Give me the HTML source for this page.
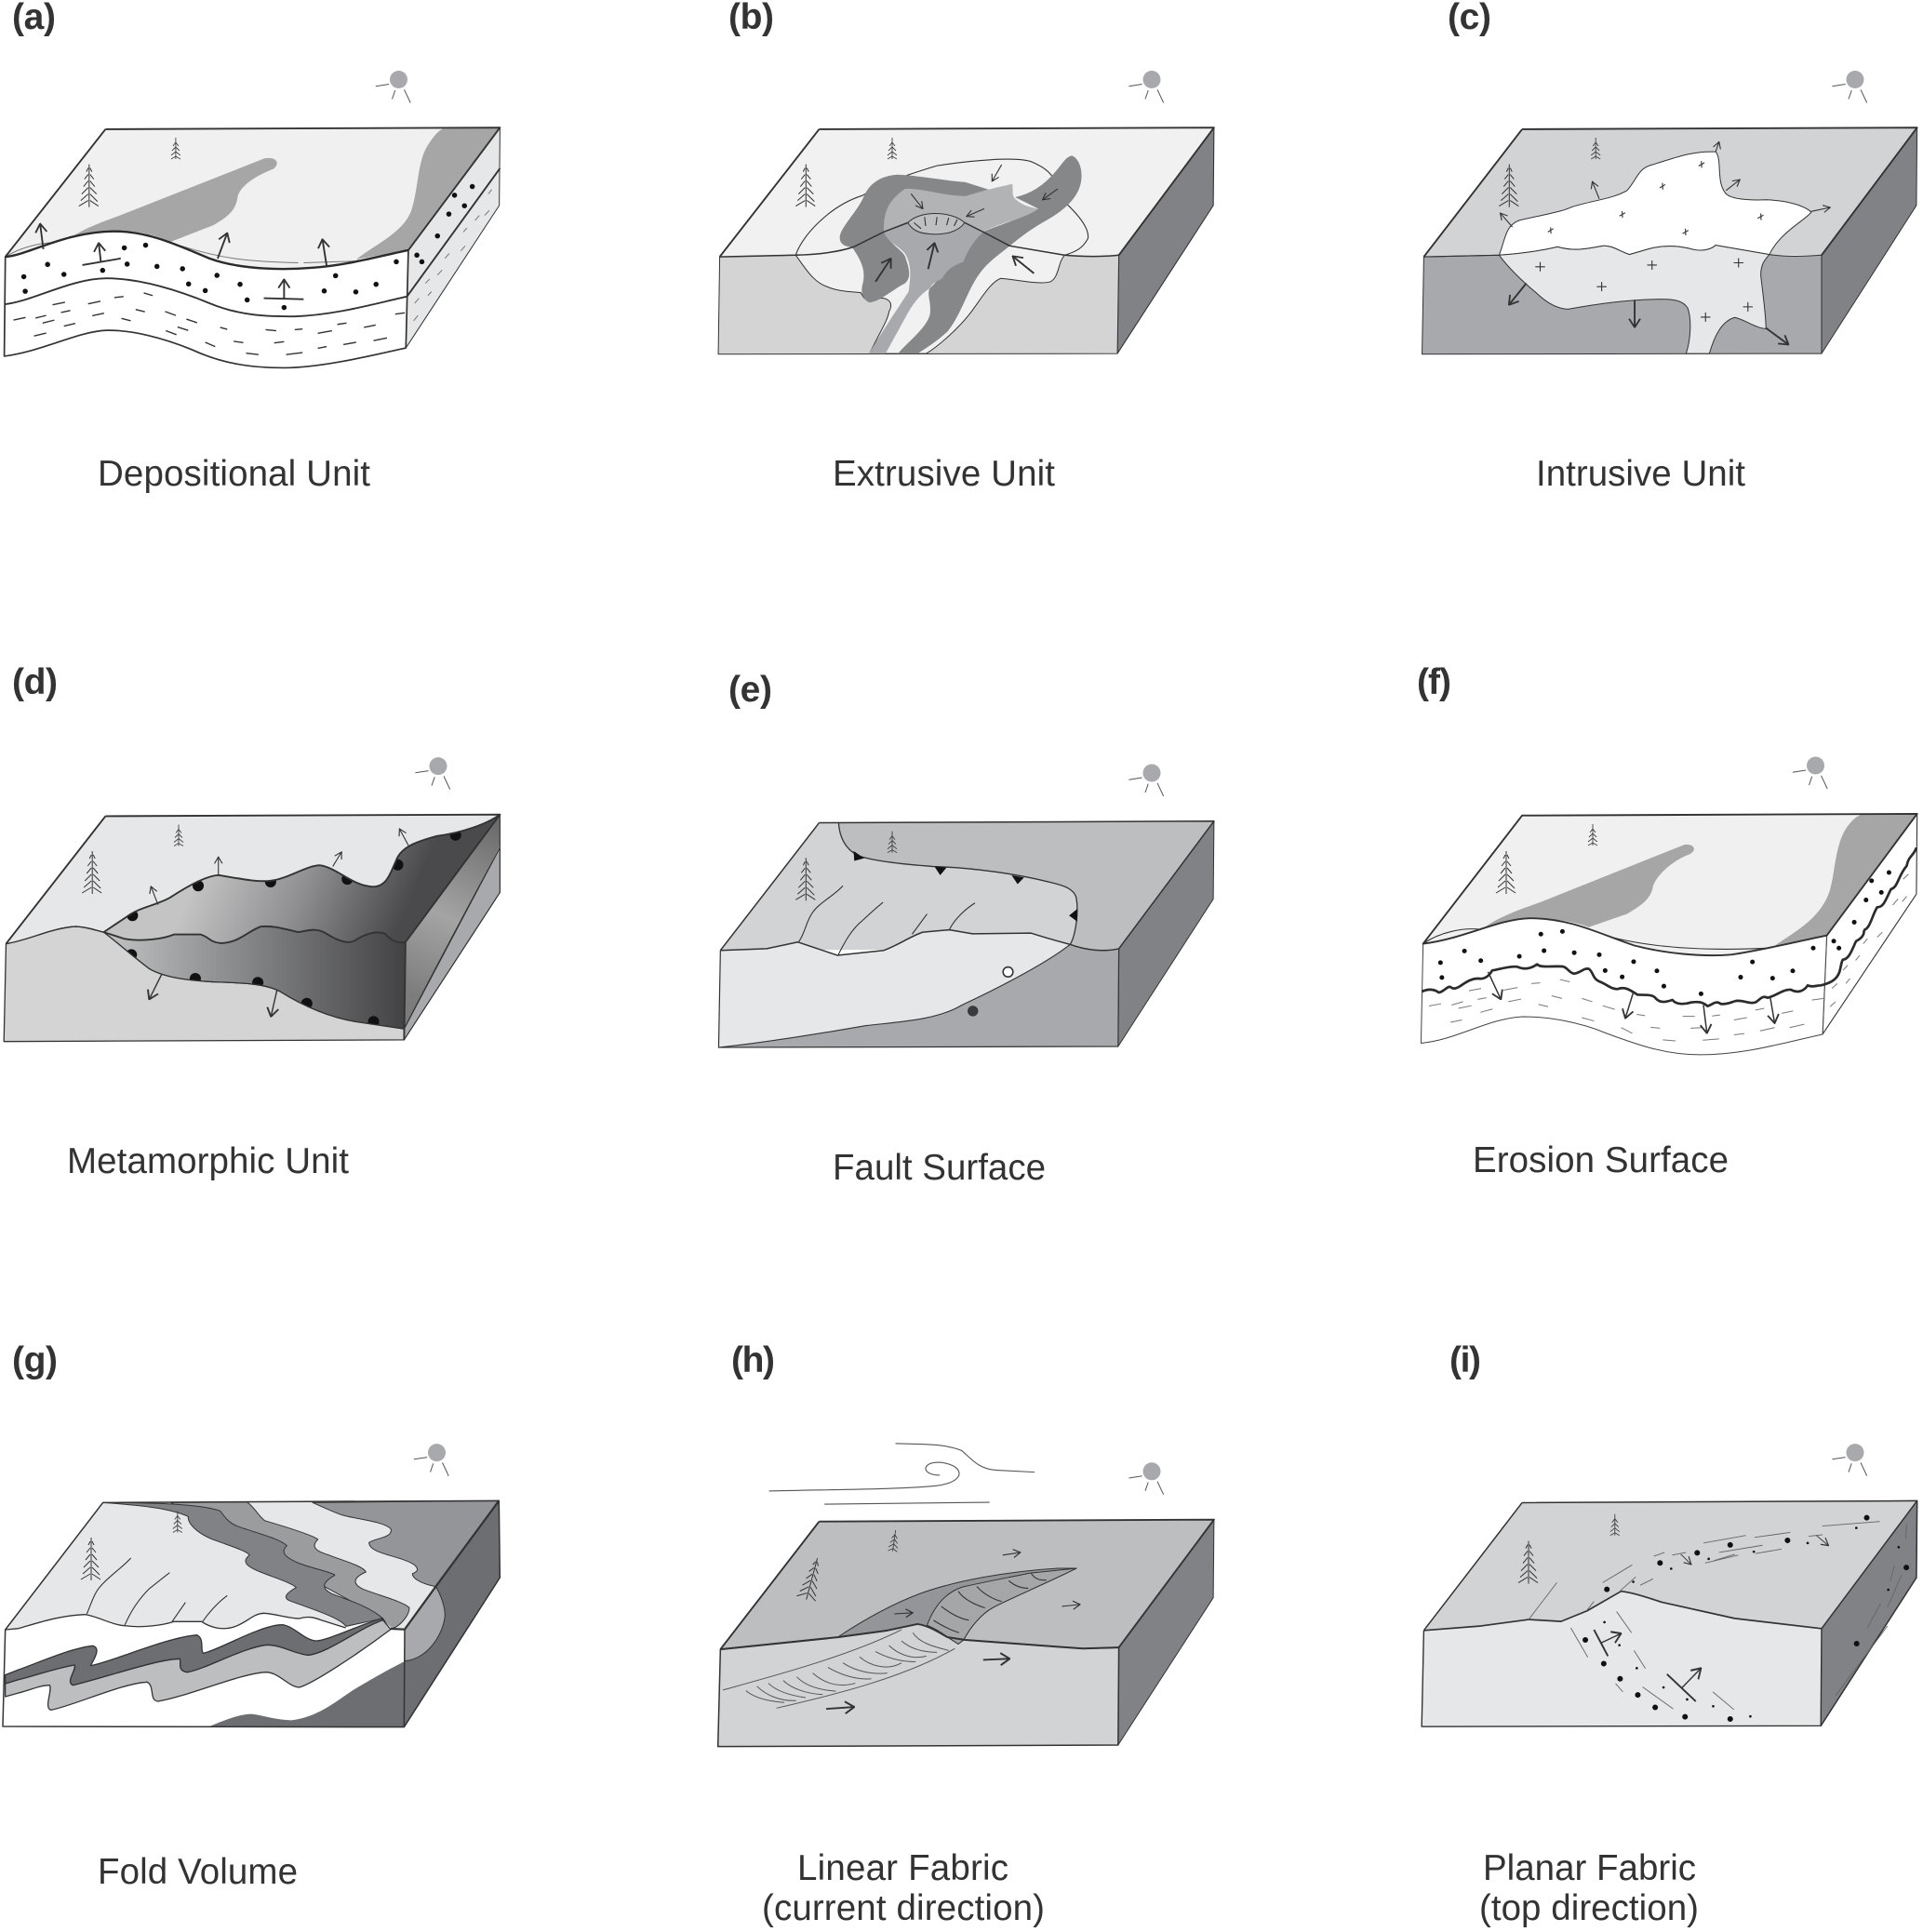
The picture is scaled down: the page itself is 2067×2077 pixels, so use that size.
<!DOCTYPE html>
<html><head><meta charset="utf-8"><style>
html,body{margin:0;padding:0;background:#fff}
svg{display:block}
.p *{vector-effect:non-scaling-stroke}
.p path{stroke-linejoin:round}
text{font-family:"Liberation Sans",Arial,sans-serif;fill:#333}
.l{font-size:38.5px}
.b{font-size:39px;font-weight:bold}
.n{fill:none;stroke:#333;stroke-width:1.1}
.t{fill:none;stroke:#333;stroke-width:1.9}
.k{fill:none;stroke:#2b2b2b;stroke-width:2.4}
.g{fill:none;stroke:#777;stroke-width:1}
.s{stroke:#333;stroke-width:1}
.f{fill:none;stroke:#666;stroke-width:.9}
.d{fill:none;stroke:#111;stroke-width:5;stroke-linecap:round}
.ds{fill:none;stroke:#111;stroke-width:2.6;stroke-linecap:round}
.a{fill:none;stroke:#333;stroke-width:1.1;marker-end:url(#am)}
.ab{fill:none;stroke:#333;stroke-width:1.9;marker-end:url(#ab)}
</style></head><body>
<svg xmlns="http://www.w3.org/2000/svg" width="2067" height="2077" viewBox="0 0 2067 2077">
<defs>
<marker id="am" viewBox="-24 -14 26 28" markerWidth="26" markerHeight="28" refX="0" refY="0" orient="auto" markerUnits="userSpaceOnUse"><path d="M-20,-11L0,0L-20,11" fill="none" stroke="#333" stroke-width="3"/></marker>
<marker id="ab" viewBox="-32 -20 34 40" markerWidth="34" markerHeight="40" refX="0" refY="0" orient="auto" markerUnits="userSpaceOnUse"><path d="M-26,-16L0,0L-26,16" fill="none" stroke="#333" stroke-width="5"/></marker>
<g id="sun"><circle r="9.5" fill="#a7a9ac"/><path d="M-24.6,7.2L-10.4,5M-7,21L-3.8,11.7M12.7,25L6,10.8" stroke="#555" stroke-width="1" fill="none"/></g>
<g id="tb"><path d="M0,0V-46M-1,-7L-11,-1M1,-7L10,-1M-1,-14L-9,-7M1,-14L9,-6M-1,-21L-8,-14M1,-21L8,-14M-1,-28L-6,-22M1,-28L6,-22M-1,-35L-5,-30M1,-35L5,-30M-1,-42L-3,-38M1,-42L3,-38" stroke="#333" stroke-width="1" fill="none"/></g>
<g id="ts"><path d="M0,0V-23M0,-3L-5,0M0,-3L5,0M0,-8L-5,-4M0,-8L5,-4M0,-13L-4,-9M0,-13L4,-9M0,-18L-3,-14M0,-18L3,-14" stroke="#444" stroke-width=".9" fill="none"/></g>
<linearGradient id="dgt" gradientUnits="userSpaceOnUse" x1="560" y1="640" x2="1100" y2="860"><stop offset="0" stop-color="#c4c4c4"/><stop offset=".5" stop-color="#8f8f92"/><stop offset="1" stop-color="#4a4a4c"/></linearGradient>
<linearGradient id="dgf" gradientUnits="userSpaceOnUse" x1="300" y1="0" x2="1140" y2="0"><stop offset="0" stop-color="#c0c1c3"/><stop offset="1" stop-color="#434345"/></linearGradient>
<linearGradient id="dgr" gradientUnits="userSpaceOnUse" x1="1140" y1="1000" x2="1400" y2="500"><stop offset="0" stop-color="#7c7c7c"/><stop offset=".45" stop-color="#a4a4a4"/><stop offset="1" stop-color="#6c6c6c"/></linearGradient>
<clipPath id="dct"><path d="M292,820L355,775C390,745 440,740 480,715C530,680 580,650 615,648C660,655 720,670 760,665C810,660 860,620 900,618C950,625 990,680 1050,683C1090,683 1100,640 1115,605C1130,560 1180,545 1230,530C1300,520 1370,495 1408,465L1142,850L292,850Z"/></clipPath>
<clipPath id="dcf"><path d="M292,820L1142,820L1138,1112L1000,1090C920,1075 850,1040 790,1000C750,975 680,973 600,970C520,965 460,955 420,930C370,890 330,850 292,820Z"/></clipPath>
</defs>

<!-- Panel a -->
<g class="p" transform="translate(0,0) scale(.38168,.35623)">
<path d="M1150,755L1408,385L1406,620L1143,1050Z" fill="#e6e7e8" class="s"/>
<path d="M297,390L1408,385L1150,755C1060,775 980,800 880,808C800,815 680,815 590,780C500,740 420,698 320,698C180,700 80,770 15,775Z" fill="#f0f0f0"/>
<path d="M185,728C230,690 290,670 350,645L745,478C775,472 792,490 770,510C720,530 680,560 670,590C665,630 650,650 600,680L480,730C420,700 360,695 320,698C260,700 220,715 185,728Z" fill="#a6a6a6"/>
<path d="M1248,388L1408,385L1150,755L1003,783C1060,735 1140,700 1160,630C1180,560 1175,480 1210,430C1225,405 1235,395 1248,388Z" fill="#a6a6a6"/>
<path d="M15,775C60,745 130,725 180,735M510,742C620,780 700,790 840,793M855,793L1000,788" class="g"/>
<path d="M15,775C80,770 180,700 320,698C420,698 500,740 590,780C680,815 800,815 880,808C980,800 1060,775 1150,755L1143,1050C1040,1075 900,1110 800,1110C700,1110 620,1095 540,1055C460,1020 370,995 300,997C220,1000 120,1060 12,1075Z" fill="#fff" stroke="#333" stroke-width="1.7"/>
<path d="M14,918C90,910 200,840 300,840C400,840 510,880 590,915C680,955 760,955 830,955C950,950 1060,915 1146,895L1408,508" class="t"/>
<path d="M297,390L1408,385L1150,755M297,390L15,775" class="t"/>
<path d="M15,775C80,770 180,700 320,698C420,698 500,740 590,780C680,815 800,815 880,808C980,800 1060,775 1150,755" class="k"/>
<path class="ds" style="stroke-width:5.5" d="M67,835h.1M71,879h.1M134,798h.1M180,828h.1M289,816h.1M350,748h.1M410,740h.1M358,797h.1M442,804h.1M514,811h.1M611,831h.1M531,857h.1M578,877h.1M676,858h.1M696,905h.1M800,928h.1M945,832h.1M913,878h.1M1002,881h.1M1059,858h.1M1116,790h.1M1280,589h.1M1330,563h.1M1264,646h.1M1308,621h.1M1232,712h.1M1174,770h.1M1188,790h.1"/>
<path class="t" style="stroke-width:1.4" d="M38,966L72,958M100,960L130,952M120,975L153,966M148,920L183,912M172,943L198,937M180,984L212,976M96,1014L130,1005M248,917L283,909M260,953L293,945M322,898L348,895M405,884L430,892M382,934L408,941M342,961L368,968M465,940L495,952M525,963L555,974M500,987L530,997M467,998L497,1010M578,1033L606,1046M620,988L640,994M658,1030L685,1034M693,1066L728,1070M748,995L778,998M772,1035L800,1031M830,995L852,993M806,1070L852,1064M895,1006L935,998M950,979L976,975M895,1051L920,1046M967,1040L1003,1033M1025,988L1058,981M1052,1028L1090,1020M1113,948L1140,944"/>
<path class="g" d="M1375,585L1385,572M1338,665L1350,650M1365,650L1378,635M1305,700L1315,688M1298,757L1310,742M1253,780L1265,765M1232,830L1245,815M1198,855L1210,842M1205,892L1215,880M1168,915L1180,900M1165,968L1177,952"/>
<path class="ab" d="M122,752L113,675"/><path class="ab" d="M284,790L278,733"/><path class="t" d="M232,800L340,780M743,900L855,903"/><path class="ab" d="M613,780L640,703"/><path class="ab" d="M920,803L908,722"/><path class="ab" d="M800,900L800,843"/>
</g>

<!-- Panel b -->
<g class="p" transform="translate(740,0) scale(.38168,.35623)">
<path d="M1212,770L1480,385L1478,620L1208,1067Z" fill="#808285" stroke="#333" stroke-width="1.1"/>
<path d="M368,390L1480,385L1212,770L88,775Z" fill="#f1f1f2"/>
<path d="M88,775L302,770C360,768 420,762 465,745L550,700L620,672L778,672L830,700L905,742L1060,770C1110,775 1170,775 1212,770L1208,1067L84,1069Z" fill="#d4d4d4" class="s"/>
<path d="M302,770C320,710 400,620 490,590C560,545 640,520 700,500C790,485 930,470 970,490C1020,515 1030,530 1060,610C1100,650 1130,690 1125,720C1110,750 1090,760 1060,770" class="n"/>
<path d="M302,770C330,810 350,850 390,865C420,880 460,880 485,883L495,900L550,900C570,905 575,920 565,940C560,970 540,1000 510,1067L670,1067C710,1040 760,990 790,950C820,910 850,850 880,840C930,845 990,860 1020,850C1045,835 1040,790 1060,770L905,742L550,700L465,745C420,762 360,768 302,770Z" fill="#f1f1f2" class="s"/>
<path d="M460,745C430,745 420,725 430,700C450,660 480,630 495,590C510,555 540,530 590,527C650,530 720,545 780,550L845,572L700,620L550,700Z" fill="#858789"/>
<path d="M1080,470C1105,480 1115,530 1100,570C1085,610 1050,640 1000,670C960,695 930,720 905,742L830,700C870,680 940,660 985,630L920,595C970,585 1010,550 1040,510C1055,490 1065,472 1080,470Z" fill="#858789"/>
<path d="M460,745L550,700C570,740 610,760 612,780C625,820 625,840 610,855C580,870 540,910 510,913C490,905 485,880 490,860C500,820 490,790 460,745Z" fill="#858789"/>
<path d="M830,700L905,742C860,780 830,800 800,860C780,900 760,960 730,1000C700,1030 670,1050 645,1067L590,1067C620,1030 670,990 680,950C685,910 670,890 680,870C700,850 710,830 730,810C760,790 780,770 790,740Z" fill="#858789"/>
<path d="M550,700C550,650 555,610 610,570L630,570C680,575 720,590 780,592C830,575 870,565 912,555C915,575 910,590 920,600C940,620 960,625 985,630C950,660 880,670 830,700L780,672C740,640 660,640 620,672Z" fill="#b1b3b5"/>
<path d="M550,700L620,672C640,705 750,715 775,672L830,700C800,730 780,770 775,790C750,800 730,810 715,840C700,850 690,850 680,870C650,890 630,920 610,960L555,1067L508,1067C540,1010 590,930 620,880C625,840 630,800 610,765C590,740 560,730 550,700Z" fill="#a7a9ac"/>
<path d="M618,672C650,635 740,635 778,672C760,700 720,710 680,706C650,704 630,695 618,672Z" fill="#bdbfc0" class="s"/>
<path d="M635,672L655,690M665,655L668,682M700,655L697,680M733,657L727,680M757,662L748,682" class="n"/>
<path d="M88,775L302,770C360,768 420,762 465,745L550,700L618,672M778,672L830,700L905,742L1060,770C1110,775 1170,775 1212,770" class="t" style="stroke-width:1.5"/>
<path d="M368,390L1480,385L1212,770M368,390L88,775" class="t"/>
<path class="a" d="M882,497L855,547"/><path class="a" d="M627,585L660,630"/><path class="a" d="M833,630L783,653"/><path class="a" d="M1040,570L997,603"/>
<path class="ab" d="M527,850L570,780"/><path class="ab" d="M675,812L693,733"/><path class="ab" d="M973,825L913,773"/>
</g>

<!-- Panel c -->
<g class="p" transform="translate(1480,0) scale(.37341,.35623)">
<path d="M1280,770L1555,385L1553,620L1280,1067Z" fill="#808285" class="s"/>
<path d="M135,775L418,390L1555,385L1280,770Z" fill="#d1d3d4"/>
<path d="M135,775L352,770C420,765 480,755 520,745C570,760 610,750 650,742C680,740 700,760 727,768L780,752C820,740 860,740 900,750C930,760 960,755 975,740L1130,768C1170,775 1220,775 1280,770L1280,1067L130,1069Z" fill="#a7a9ac" class="s"/>
<path d="M352,770C370,720 370,680 410,665C470,650 530,640 560,625C620,605 680,600 720,575C750,540 750,510 790,498C850,480 900,455 975,458C995,480 975,550 1005,585C1020,600 1060,605 1120,603C1180,605 1230,620 1250,640C1240,660 1160,700 1130,768L975,740C960,755 930,760 900,750C860,740 820,740 780,752L727,768C700,760 680,740 650,742C610,750 570,760 520,745C480,755 420,765 352,770Z" fill="#fff" class="s"/>
<path d="M352,770C380,810 420,850 460,885C490,915 520,932 550,933C620,920 720,903 820,903C850,903 880,905 895,930C905,960 905,1020 890,1067L957,1067C970,1020 990,970 1030,958C1060,965 1090,990 1120,992C1120,950 1110,880 1105,830C1105,800 1115,785 1130,768L975,740C960,755 930,760 900,750C860,740 820,740 780,752L727,768C700,760 680,740 650,742C610,750 570,760 520,745C480,755 420,765 352,770Z" fill="#e6e7e8" class="s"/>
<path d="M418,390L1555,385L1280,770M418,390L135,775" class="t"/>
<path d="M135,775L352,770" class="t" style="stroke-width:1.2"/>
<path class="n" d="M492,700L508,690M500,686L501,705M698,652L715,642M706,637L707,657M814,567L830,557M822,552L823,572M926,501L943,491M934,486L935,506M880,705L897,695M888,690L889,710M1096,659L1113,649M1105,644L1106,664"/>
<path class="n" d="M456,805H484M470,791V819M778,800H806M792,786V814M633,865H661M647,851V879M1027,793H1055M1041,779V807M1054,926H1082M1068,912V940M932,957H960M946,943V971"/>
<path class="a" d="M390,685L355,643"/><path class="a" d="M640,600L620,548"/><path class="a" d="M975,458L985,428"/><path class="a" d="M1005,575L1045,542"/><path class="a" d="M1250,638L1305,626"/>
<path class="ab" d="M430,855L380,920"/><path class="ab" d="M742,905L742,988"/><path class="ab" d="M1120,990L1185,1040"/>
</g>

<!-- Panel d -->
<g class="p" transform="translate(0,710) scale(.38168,.35623)">
<path d="M297,470L1408,465L1142,850L17,855Z" fill="#e6e7e8"/>
<path d="M1142,850L1408,465L1408,560C1350,680 1230,920 1138,1112Z" fill="url(#dgr)"/>
<path d="M1408,565L1408,700L1138,1145L1138,1112Z" fill="#a7a9ac" class="s"/>
<path d="M17,855C80,845 150,805 215,803C250,805 270,815 292,820C330,850 370,890 420,930C460,955 520,965 600,970C680,973 750,975 790,1000C850,1040 920,1075 1000,1090L1138,1112L1138,1145L11,1150Z" fill="#d4d4d4" stroke="#333" stroke-width="1.3"/>
<path d="M292,820L355,775C390,745 440,740 480,715C530,680 580,650 615,648C660,655 720,670 760,665C810,660 860,620 900,618C950,625 990,680 1050,683C1090,683 1100,640 1115,605C1130,560 1180,545 1230,530C1300,520 1370,495 1408,465L1142,850L1138,880L620,880L340,860Z" fill="url(#dgt)"/>
<path d="M292,820L350,840C400,850 460,840 490,827L565,827C590,835 590,850 620,853C670,855 700,815 735,803C770,800 800,810 840,820C870,815 890,805 920,825C950,845 980,858 1000,845C1030,825 1060,815 1085,825C1100,845 1120,855 1142,850L1138,1112L1000,1090C920,1075 850,1040 790,1000C750,975 680,973 600,970C520,965 460,955 420,930C370,890 330,850 292,820Z" fill="url(#dgf)"/>
<g clip-path="url(#dct)"><path class="d" style="stroke-width:12" d="M373,770h.1M558,680h.1M762,668h.1M978,660h.1M1120,617h.1M1283,527h.1"/></g>
<g clip-path="url(#dcf)"><path class="d" style="stroke-width:12" d="M370,888h.1M550,960h.1M726,972h.1M864,1035h.1M1052,1090h.1"/></g>
<path d="M292,820L355,775C390,745 440,740 480,715C530,680 580,650 615,648C660,655 720,670 760,665C810,660 860,620 900,618C950,625 990,680 1050,683C1090,683 1100,640 1115,605C1130,560 1180,545 1230,530C1300,520 1370,495 1408,465" class="t"/>
<path d="M292,820L350,840C400,850 460,840 490,827L565,827C590,835 590,850 620,853C670,855 700,815 735,803C770,800 800,810 840,820C870,815 890,805 920,825C950,845 980,858 1000,845C1030,825 1060,815 1085,825C1100,845 1120,855 1142,850" class="t"/>
<path d="M297,470L1408,465L1142,850M297,470L17,855M1142,850L1138,1145" class="t"/>
<path d="M17,855C80,845 150,805 215,803C250,805 270,815 292,820C330,850 370,890 420,930C460,955 520,965 600,970C680,973 750,975 790,1000C850,1040 920,1075 1000,1090L1138,1112" class="t" style="stroke-width:1.3"/>
<path d="M1408,465L1408,700L1138,1145M1408,565C1350,680 1230,920 1138,1112" class="n"/>
<path class="a" d="M445,737L425,682"/><path class="a" d="M615,648L615,593"/><path class="a" d="M937,622L962,578"/><path class="a" d="M1150,558L1125,508"/>
<path class="ab" style="stroke-width:1.4" d="M455,948L420,1023"/><path class="ab" style="stroke-width:1.4" d="M780,995L763,1075"/>
</g>

<!-- Panel e -->
<g class="p" transform="translate(740,710) scale(.38168,.35623)">
<path d="M1212,870L1480,485L1478,720L1210,1165Z" fill="#808285" class="s"/>
<path d="M368,490L1480,485L1212,870L90,875Z" fill="#d1d3d4"/>
<path d="M423,490L1480,485L1212,870C1170,880 1120,875 1075,857C1090,830 1100,760 1092,715C1085,690 1060,680 1020,670C930,645 800,625 690,622C600,615 520,605 480,590C440,570 425,530 423,490Z" fill="#bcbec0"/>
<path d="M423,490C425,530 440,570 480,590C520,605 600,615 690,622C800,625 930,645 1020,670C1060,680 1085,690 1092,715C1100,760 1090,830 1075,857" class="t" style="stroke-width:1.3"/>
<path d="M90,875L220,870L308,850L420,890L550,875C590,860 620,835 660,820L735,813L800,825L965,823C1000,835 1050,850 1075,857C1000,920 850,1000 770,1040C700,1085 600,1090 500,1102C350,1130 200,1155 85,1168Z" fill="#e6e7e8"/>
<path d="M1075,857C1120,875 1170,880 1212,870L1210,1165L83,1168C200,1155 350,1130 500,1102C600,1090 700,1085 770,1040C850,1000 1000,920 1075,857Z" fill="#a7a9ac"/>
<path d="M85,1168C200,1155 350,1130 500,1102C600,1090 700,1085 770,1040C850,1000 1000,920 1075,857" class="n"/>
<path d="M90,875L220,870L308,850L420,890L550,875C590,860 620,835 660,820L735,813L800,825L965,823C1000,835 1050,850 1075,857C1120,875 1170,880 1212,870" class="t" style="stroke-width:1.5"/>
<path d="M90,875L85,1168L1210,1165L1212,870" class="t" style="stroke-width:1.2"/>
<path d="M368,490L1480,485L1212,870M368,490L90,875" class="t" style="stroke-width:1.5"/>
<path d="M465,575L495,597L467,605ZM693,622L727,625L709,648ZM910,648L945,655L927,675ZM1095,750L1095,788L1072,770Z" fill="#111"/>
<path d="M310,850C330,820 330,790 350,760C370,730 410,710 435,680M422,888C440,850 460,810 490,785C510,765 530,745 548,730M630,826L672,765M735,812C750,780 780,750 807,732" class="n"/>
<ellipse cx="900" cy="940" rx="14" ry="15" fill="#fff" stroke="#333" stroke-width="1.6"/>
<ellipse cx="801" cy="1058" rx="15" ry="16" fill="#3a3a3c"/>
</g>

<!-- Panel f -->
<g class="p" transform="translate(1480,710) scale(.37341,.35623)">
<path d="M1295,830L1555,463L1553,705L1283,1128Z" fill="#e6e7e8" class="n"/>
<path d="M418,468L1555,463L1295,830C1200,850 1130,870 1020,888C940,895 830,885 740,860C640,825 560,778 440,778C350,780 250,840 133,855Z" fill="#f0f0f0"/>
<path d="M305,810C340,780 400,755 470,730L885,556C910,552 925,570 900,585C860,600 810,640 795,680C790,720 760,740 720,765L610,805C560,785 500,778 440,778C390,780 350,795 305,810Z" fill="#a6a6a6"/>
<path d="M1392,466L1555,463L1295,830L1140,865C1200,820 1280,780 1305,690C1320,630 1320,550 1355,500C1370,480 1380,472 1392,466Z" fill="#a6a6a6"/>
<path d="M133,855C180,820 250,805 300,812M640,825C750,860 900,880 1130,868" class="n"/>
<path d="M133,855C250,840 350,780 440,778C560,778 640,825 740,860C830,885 940,895 1020,888C1130,870 1200,850 1295,830L1283,1128C1150,1160 1050,1190 930,1190C830,1190 750,1160 660,1125C580,1090 490,1075 420,1075C320,1080 230,1145 127,1155Z" fill="#fff" stroke="#444" stroke-width="1"/>
<path d="M133,855C250,840 350,780 440,778C560,778 640,825 740,860C830,885 940,895 1020,888C1130,870 1200,850 1295,830L1555,463L418,468Z" class="t"/>
<path d="M1401,814C1420,810 1425,770 1440,745C1460,745 1465,720 1480,690C1500,685 1500,650 1525,620C1530,590 1545,590 1553,565" class="k" style="stroke-width:2.7"/>
<path class="ds" style="stroke-width:5" d="M183,912h.1M187,957h.1M252,877h.1M299,906h.1M410,893h.1M481,876h.1M472,826h.1M534,818h.1M568,882h.1M640,888h.1M739,909h.1M657,936h.1M706,955h.1M806,937h.1M826,983h.1M933,1006h.1M1081,910h.1M1047,956h.1M1139,959h.1M1197,937h.1M1256,868h.1M1424,665h.1M1474,640h.1M1408,723h.1M1452,700h.1M1374,790h.1M1315,847h.1M1330,868h.1"/>
<path class="g" d="M150,1043L185,1036M215,1040L248,1030M235,1050L272,1042M265,997L300,990M290,1023L315,1018M298,1062L333,1052M212,1092L245,1085M365,995L405,987M378,1030L415,1022M445,975L470,973M527,963L555,970M503,1012L533,1020M465,1038L493,1045M590,1020L620,1030M650,1042L685,1053M590,1078L625,1088M703,1108L735,1125M748,1068L772,1072M788,1107L815,1110M823,1145L860,1148M880,1074L915,1074M903,1110L935,1108M938,1146L985,1142M965,1073L988,1070M1028,1085L1065,1078M1028,1130L1058,1126M1090,1055L1115,1050M1103,1118L1145,1108M1165,1065L1198,1058M1188,1108L1230,1098M1252,1025L1285,1020M1515,660L1530,645M1485,738L1500,720M1512,728L1525,712M1440,835L1455,820M1400,855L1412,840M1378,905L1390,890M1342,935L1355,920M1350,975L1362,960M1310,990L1325,975M1305,1045L1320,1030"/>
<path class="ab" style="stroke-width:1.5" d="M320,940L357,1023"/><path class="ab" style="stroke-width:1.5" d="M738,1002L715,1080"/><path class="ab" style="stroke-width:1.5" d="M940,1040L950,1125"/><path class="ab" style="stroke-width:1.5" d="M1132,1015L1145,1095"/>
</g>
<g class="p" transform="translate(1480,1000) scale(.359,.33333)">
<path d="M135,198C150,190 170,188 185,201C200,200 210,180 220,183C228,190 235,190 250,180C270,165 285,155 305,156C320,158 335,150 345,130C370,125 400,115 420,118C440,128 460,125 480,110C490,122 520,115 555,117C570,118 575,138 590,140C610,138 620,120 635,125C648,135 645,155 665,165C690,175 700,190 720,190C745,180 760,195 780,208C800,210 825,205 835,220C850,238 870,230 885,225C895,240 920,240 940,233C960,230 975,230 990,245C1005,240 1015,225 1030,238C1050,240 1060,232 1075,228C1100,225 1115,240 1135,232C1150,220 1155,210 1170,218C1200,210 1215,190 1240,192C1260,205 1280,195 1290,178C1305,185 1315,178 1330,178C1350,172 1375,165 1385,135C1390,115 1390,105 1395,95C1415,95 1425,55 1435,35C1455,25 1460,10 1458,0" class="k" style="stroke-width:2.7"/>
</g>

<!-- Panel g -->
<g class="p" transform="translate(20,1640) scale(.33333)">
<path d="M1245,335L1345,197L1549,-80L1552,168L1245,650Z" fill="#6d6e71"/>
<path d="M1345,197C1360,220 1375,260 1375,290C1370,350 1320,430 1245,437L1245,335Z" fill="#a7a9ac" class="s"/>
<path d="M272,-74L1549,-80L1245,335L-43,336Z" fill="#e6e7e8"/>
<path d="M948,-74L1549,-80L1345,197C1310,190 1270,175 1270,155C1300,145 1285,125 1240,110C1200,95 1130,85 1130,55C1150,40 1210,40 1200,10C1170,-15 1090,-20 1039,-35C1000,-50 980,-60 948,-74Z" fill="#939598" class="s"/>
<path d="M490,-74L736,-76C760,-60 770,-35 793,-16C830,-5 950,30 965,45C945,65 950,80 1000,95C1050,115 1110,130 1120,150C1085,165 1070,185 1110,205C1160,225 1240,245 1260,265C1260,290 1230,325 1205,332C1190,325 1185,315 1175,300Z" fill="#9b9c9e" class="s"/>
<path d="M272,-74C400,-65 490,-55 547,-29C545,-5 580,30 640,50C680,65 730,80 745,95C720,115 730,130 780,150C830,170 880,185 895,200C860,220 850,235 880,245C950,270 1040,300 1055,325L1175,300C1130,260 1060,240 1010,220C970,200 985,180 1020,160C1010,150 950,140 900,120C855,100 845,85 865,65C840,40 750,20 700,0C670,-15 660,-35 650,-47C600,-65 490,-74 272,-74Z" fill="#808285" class="s"/>
<path d="M-43,336L0,332C60,315 130,290 215,287C260,295 300,320 340,323C400,332 470,320 500,310L590,310C620,330 660,340 700,325C740,310 755,285 790,283C830,285 870,300 905,300C930,292 950,295 975,305L1055,330L1170,300L1205,332L1245,335L1243,650L-51,648Z" fill="#fff"/>
<path d="M-43,336L0,332C60,315 130,290 215,287C260,295 300,320 340,323C400,332 470,320 500,310L590,310C620,330 660,340 700,325C740,310 755,285 790,283C830,285 870,300 905,300C930,292 950,295 975,305L1055,330" class="t" style="stroke-width:1.3"/>
<path d="M-43,510L0,497C50,485 120,460 180,450C190,460 150,505 175,515C280,490 450,430 520,430C525,440 510,470 545,473C610,460 720,395 800,385C850,385 890,415 935,418C1000,410 1100,330 1175,305L1200,335C1100,410 950,510 905,522C870,520 840,475 800,473C720,475 550,550 450,567C420,565 440,520 415,505C330,510 180,580 105,595C80,590 110,530 100,515C70,515 40,530 0,540L-43,552Z" fill="#bcbec0" class="s" style="stroke-width:1.3"/>
<path d="M-43,482L0,465C70,440 170,395 240,388C265,395 245,430 232,452C300,440 480,360 575,353C600,365 585,400 595,412C640,405 780,320 850,320C890,325 920,370 960,372C1000,370 1100,320 1170,300L1175,305C1100,330 1000,410 935,418C890,415 850,385 800,385C720,395 610,460 545,473C510,470 525,440 520,430C450,430 280,490 175,515C150,505 190,460 180,450C120,460 50,485 0,497L-43,510Z" fill="#6d6e71" class="s" style="stroke-width:1.3"/>
<path d="M610,650C650,635 700,610 750,608C790,612 830,628 880,628C960,620 1020,570 1080,530C1130,500 1200,460 1245,438L1245,650Z" fill="#6d6e71"/>
<path d="M1245,335L1243,650L-51,648L-43,336L272,-74L1549,-80L1552,168L1243,650" class="t" style="stroke-width:1.5"/>
<path d="M1549,-80L1345,197L1245,335L1200,333" class="t" style="stroke-width:2.2"/>
<path d="M220,285C235,250 245,215 265,195C290,165 335,135 362,105M342,322C360,280 385,240 420,205C445,185 470,165 487,152M495,310L538,248M592,312C610,285 640,250 673,226" class="n"/>
</g>

<!-- Panel h -->
<g class="p" transform="translate(740,1440) scale(.38168,.40522)">
<path d="M1212,817L1480,478L1478,685L1210,1076Z" fill="#808285" class="s"/>
<path d="M368,483L1480,478L1212,817L1110,820L780,797L720,765L645,755L560,772L420,790L90,822Z" fill="#bcbec0"/>
<path d="M90,822L420,790L560,772L645,755C680,760 710,780 730,790L780,797L1110,820L1212,817L1210,1076L83,1080Z" fill="#d1d3d4" stroke="#333" stroke-width="1.5"/>
<path d="M420,790C500,740 580,700 650,675C750,640 900,615 1040,607L1093,607C1000,650 900,690 860,710C820,730 790,770 775,797L760,808L730,790C700,775 680,760 645,755L560,772Z" fill="#939598" class="s"/>
<path d="M672,758C695,700 730,670 770,657C840,642 910,630 960,620L1093,607C1000,650 900,690 860,710C820,730 790,770 775,797L760,808L730,790C710,775 690,765 672,758Z" fill="#a4a6a8" class="s"/>
<path d="M690,745C715,760 735,770 762,778M712,708C735,725 760,740 790,745M760,668C775,690 810,705 835,712M812,655C830,675 860,690 882,695M902,640C920,655 940,660 957,660M965,620C975,635 990,640 1008,638" class="n"/>
<path d="M97,930C250,890 450,840 600,770M248,978C400,945 600,900 750,820M162,932C185,950 220,960 270,963M193,920C220,945 260,960 303,958M225,912C250,935 290,945 330,950M267,905C290,925 330,940 378,942M305,895C330,920 370,930 415,933M350,885C380,910 420,925 470,912M393,870C420,885 470,905 515,900M435,858C470,880 520,890 560,885M482,842C510,865 560,880 600,858M527,828C560,845 600,855 640,855M565,812C590,835 630,850 670,840M600,800C625,820 660,830 700,830M632,778C650,805 690,815 733,825" class="g" style="stroke:#555"/>
<path d="M90,822L420,790L560,772L645,755C680,760 710,780 730,790L780,797L1110,820L1212,817" class="t" style="stroke-width:2"/>
<path d="M368,483L1480,478L1212,817M368,483L90,822" class="t"/>
<path class="a" d="M885,572L935,565"/><path class="a" d="M1052,708L1103,703"/><path class="a" d="M580,728L632,725"/>
<path class="ab" d="M830,850L905,847"/><path class="ab" d="M388,980L467,975"/>
<path d="M583,276C650,278 720,275 770,295C800,320 820,345 870,347L975,352M227,402C400,398 600,398 700,388C770,378 775,350 745,335C710,320 670,325 668,342C668,355 690,360 708,360M383,437L848,432" class="g" style="stroke:#555;stroke-width:1.1"/>
</g>

<!-- Panel i -->
<g class="p" transform="translate(1480,1440) scale(.37341,.40522)">
<path d="M1280,767L1555,428L1553,632L1278,1025Z" fill="#808285" class="s"/>
<path d="M418,433L1555,428L1280,767L1030,740L820,697C780,685 740,672 703,668L605,720L530,748L437,743L300,760L135,772Z" fill="#d1d3d4"/>
<path d="M135,772L300,760L437,743L530,748L605,720L703,668C740,672 780,685 820,697L1030,740L1280,767L1278,1025L129,1027Z" fill="#e6e7e8"/>
<path d="M135,772L300,760L437,743L530,748L605,720L703,668C740,672 780,685 820,697L1030,740L1280,767" class="t" style="stroke-width:1.7"/>
<path d="M135,772L129,1027L1278,1025L1280,767" class="t" style="stroke-width:1.4"/>
<path d="M418,433L1555,428L1280,767M418,433L135,772M1555,428L1553,632L1278,1025" class="t" style="stroke-width:1.5"/>
<path class="ds" style="stroke-width:6" d="M662,663h.1M815,593h.1M922,566h.1M1017,545h.1M1182,533h.1M1410,473h.1M600,797h.1M653,860h.1M700,900h.1M751,943h.1M801,976h.1M887,1001h.1M1017,1007h.1M1524,605h.1M1381,807h.1"/>
<path class="ds" d="M1075,1000h.1M968,973h.1M893,955h.1M825,923h.1M748,872h.1M698,811h.1M655,750h.1M738,643h.1M847,608h.1M955,582h.1M1085,563h.1M1240,540h.1M1380,500h.1M1502,551h.1M1472,664h.1"/>
<path class="f" d="M437,743L518,645M650,645L735,598M700,667L745,630M605,718L625,695M758,652L795,635M797,575L828,565M850,572L890,565M940,540L1062,520M945,593L1040,572M985,565L1110,546M970,587L1030,570M1090,568L1165,556M1087,525L1190,512M1243,522L1283,518M1282,495L1448,483M558,765L607,843M690,722L733,778M740,825L773,873M687,913L708,935M765,922L853,980M967,935L1028,982M1525,490L1522,530M1490,600L1478,640M1510,625L1470,710M1450,700L1412,765M1320,945L1470,760"/>
<path class="a" style="stroke-width:.9" d="M875,570L905,597"/><path class="a" style="stroke-width:.9" d="M1265,520L1300,547"/>
<path class="t" d="M625,770L665,840M835,888L918,960"/>
<path class="ab" style="stroke-width:1.4" d="M645,805L703,780"/><path class="ab" style="stroke-width:1.4" d="M877,925L933,872"/>
</g>

<!-- Suns -->
<use href="#sun" x="428.5" y="85.5"/><use href="#sun" x="1238" y="85.5"/><use href="#sun" x="1994" y="85.5"/>
<use href="#sun" x="471" y="823.6"/><use href="#sun" x="1238" y="831"/><use href="#sun" x="1951.5" y="823"/>
<use href="#sun" x="469.5" y="1561.6"/><use href="#sun" x="1238" y="1581.8"/><use href="#sun" x="1994" y="1561.6"/>

<!-- Trees -->
<use href="#tb" x="95.8" y="222.6"/><use href="#ts" x="188.9" y="171"/>
<use href="#tb" x="866.3" y="222.6"/><use href="#ts" x="959" y="171"/>
<use href="#tb" x="1622.3" y="222.6"/><use href="#ts" x="1715.2" y="171"/>
<use href="#tb" x="99.2" y="961"/><use href="#ts" x="192" y="909.5"/>
<use href="#tb" x="866.3" y="968.3"/><use href="#ts" x="959" y="916.6"/>
<use href="#tb" x="1619" y="961"/><use href="#ts" x="1712" y="909"/>
<use href="#tb" x="98" y="1699"/><use href="#ts" x="190.8" y="1647.5"/>
<use href="#tb" transform="translate(866.7,1719.6) rotate(15)"/><use href="#ts" transform="translate(959.5,1667.7) rotate(8)"/>
<use href="#tb" x="1643" y="1702.6"/><use href="#ts" x="1735.8" y="1650.7"/>

<!-- Letters -->
<text class="b" x="13" y="31" textLength="47">(a)</text>
<text class="b" x="783" y="31" textLength="49">(b)</text>
<text class="b" x="1556" y="31" textLength="47">(c)</text>
<text class="b" x="13" y="746" textLength="49">(d)</text>
<text class="b" x="783" y="754" textLength="47">(e)</text>
<text class="b" x="1523" y="746" textLength="37">(f)</text>
<text class="b" x="13" y="1475" textLength="49">(g)</text>
<text class="b" x="786" y="1475" textLength="47">(h)</text>
<text class="b" x="1558" y="1475" textLength="34">(i)</text>

<!-- Labels -->
<text class="l" x="105" y="522" textLength="293">Depositional Unit</text>
<text class="l" x="895" y="522" textLength="239">Extrusive Unit</text>
<text class="l" x="1651" y="522" textLength="225">Intrusive Unit</text>
<text class="l" x="72" y="1261" textLength="303">Metamorphic Unit</text>
<text class="l" x="895" y="1268" textLength="229">Fault Surface</text>
<text class="l" x="1583" y="1260" textLength="275">Erosion Surface</text>
<text class="l" x="105" y="2025" textLength="215">Fold Volume</text>
<text class="l" x="857" y="2021" textLength="227">Linear Fabric</text>
<text class="l" x="819" y="2064" textLength="304">(current direction)</text>
<text class="l" x="1594" y="2021" textLength="229">Planar Fabric</text>
<text class="l" x="1590" y="2064" textLength="236">(top direction)</text>
</svg>
</body></html>
